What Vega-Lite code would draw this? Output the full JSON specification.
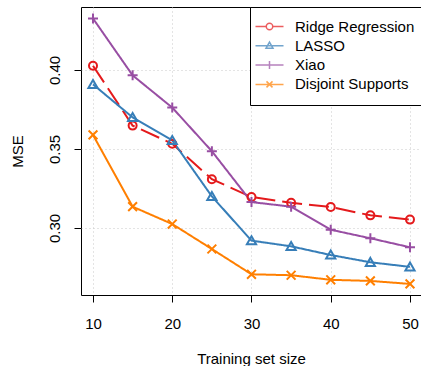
{
  "$schema": "https://vega.github.io/schema/vega-lite/v6.json",
  "width": 340,
  "height": 288,
  "autosize": "none",
  "padding": {"left": 81, "top": 7, "right": 0, "bottom": 71},
  "background": "white",
  "config": {
    "view": {"stroke": "black", "strokeWidth": 1},
    "font": "Liberation Sans",
    "axis": {
      "domain": false,
      "tickColor": "black",
      "tickWidth": 1,
      "tickSize": 7,
      "labelFont": "Liberation Sans",
      "labelFontSize": 15,
      "labelColor": "black",
      "titleFont": "Liberation Sans",
      "titleFontSize": 15,
      "titleFontWeight": "normal",
      "titleColor": "black",
      "grid": true,
      "gridColor": "#c8c8c8",
      "gridDash": [1, 3],
      "gridWidth": 1
    }
  },
  "data": {
    "values": [
      {"n": 10, "method": "Ridge Regression", "mse": 0.4027},
      {"n": 15, "method": "Ridge Regression", "mse": 0.3648},
      {"n": 20, "method": "Ridge Regression", "mse": 0.3533},
      {"n": 25, "method": "Ridge Regression", "mse": 0.3309},
      {"n": 30, "method": "Ridge Regression", "mse": 0.3196},
      {"n": 35, "method": "Ridge Regression", "mse": 0.3160},
      {"n": 40, "method": "Ridge Regression", "mse": 0.3133},
      {"n": 45, "method": "Ridge Regression", "mse": 0.3080},
      {"n": 50, "method": "Ridge Regression", "mse": 0.3053},
      {"n": 10, "method": "LASSO", "mse": 0.3909},
      {"n": 15, "method": "LASSO", "mse": 0.3700},
      {"n": 20, "method": "LASSO", "mse": 0.3555},
      {"n": 25, "method": "LASSO", "mse": 0.3200},
      {"n": 30, "method": "LASSO", "mse": 0.2920},
      {"n": 35, "method": "LASSO", "mse": 0.2884},
      {"n": 40, "method": "LASSO", "mse": 0.2829},
      {"n": 45, "method": "LASSO", "mse": 0.2783},
      {"n": 50, "method": "LASSO", "mse": 0.2754},
      {"n": 10, "method": "Xiao", "mse": 0.4326},
      {"n": 15, "method": "Xiao", "mse": 0.3966},
      {"n": 20, "method": "Xiao", "mse": 0.3762},
      {"n": 25, "method": "Xiao", "mse": 0.3486},
      {"n": 30, "method": "Xiao", "mse": 0.3164},
      {"n": 35, "method": "Xiao", "mse": 0.3135},
      {"n": 40, "method": "Xiao", "mse": 0.2989},
      {"n": 45, "method": "Xiao", "mse": 0.2935},
      {"n": 50, "method": "Xiao", "mse": 0.2878},
      {"n": 10, "method": "Disjoint Supports", "mse": 0.3589},
      {"n": 15, "method": "Disjoint Supports", "mse": 0.3135},
      {"n": 20, "method": "Disjoint Supports", "mse": 0.3025},
      {"n": 25, "method": "Disjoint Supports", "mse": 0.2867},
      {"n": 30, "method": "Disjoint Supports", "mse": 0.2707},
      {"n": 35, "method": "Disjoint Supports", "mse": 0.2701},
      {"n": 40, "method": "Disjoint Supports", "mse": 0.2672},
      {"n": 45, "method": "Disjoint Supports", "mse": 0.2665},
      {"n": 50, "method": "Disjoint Supports", "mse": 0.2646}
    ]
  },
  "encoding": {
    "x": {
      "field": "n",
      "type": "quantitative",
      "scale": {"domain": [8.486, 51.39], "nice": false, "zero": false},
      "axis": {
        "orient": "bottom",
        "values": [10, 20, 30, 40, 50],
        "labelPadding": 14,
        "labelBaseline": "top",
        "title": "Training set size",
        "titlePadding": 20
      }
    },
    "y": {
      "field": "mse",
      "type": "quantitative",
      "scale": {"domain": [0.25759, 0.43987], "nice": false, "zero": false},
      "axis": {
        "orient": "left",
        "values": [0.30, 0.35, 0.40],
        "format": ".2f",
        "labelAngle": -90,
        "labelAlign": "center",
        "labelBaseline": "middle",
        "labelPadding": 20,
        "title": "MSE",
        "titlePadding": 22
      }
    }
  },
  "layer": [
    {
      "mark": {"type": "line", "strokeWidth": 2, "strokeCap": "butt"},
      "encoding": {
        "color": {
          "field": "method",
          "type": "nominal",
          "scale": {
            "domain": ["Ridge Regression", "LASSO", "Xiao", "Disjoint Supports"],
            "range": ["#E41A1C", "#377EB8", "#984EA3", "#FF7F00"]
          },
          "legend": null
        },
        "strokeDash": {
          "field": "method",
          "type": "nominal",
          "scale": {
            "domain": ["Ridge Regression", "LASSO", "Xiao", "Disjoint Supports"],
            "range": [[20, 7], [1, 0], [1, 0], [1, 0]]
          },
          "legend": null
        }
      }
    },
    {
      "mark": {"type": "point", "filled": false, "strokeWidth": 2, "size": 64, "opacity": 1},
      "encoding": {
        "color": {
          "field": "method",
          "type": "nominal",
          "scale": {
            "domain": ["Ridge Regression", "LASSO", "Xiao", "Disjoint Supports"],
            "range": ["#E41A1C", "#377EB8", "#984EA3", "#FF7F00"]
          },
          "legend": null
        },
        "shape": {
          "field": "method",
          "type": "nominal",
          "scale": {
            "domain": ["Ridge Regression", "LASSO", "Xiao", "Disjoint Supports"],
            "range": [
              "M-1,0A1,1 0 1,1 1,0A1,1 0 1,1 -1,0Z",
              "M0,-1.1L1.15,0.9L-1.15,0.9Z",
              "M-1.25,0H1.25M0,-1.25V1.25",
              "M-1.1,-1.1L1.1,1.1M-1.1,1.1L1.1,-1.1"
            ]
          },
          "legend": null
        }
      }
    },
    {
      "transform": [{"filter": "datum.n > 1000"}],
      "mark": {"type": "point", "filled": false, "strokeWidth": 1.5, "size": 100},
      "encoding": {
        "color": {
          "field": "method",
          "type": "nominal",
          "scale": {
            "domain": ["Ridge Regression", "LASSO", "Xiao", "Disjoint Supports"],
            "range": ["#E41A1C", "#377EB8", "#984EA3", "#FF7F00"]
          },
          "legend": {
            "orient": "none",
            "legendX": 169,
            "legendY": 0,
            "direction": "vertical",
            "title": null,
            "strokeColor": "black",
            "fillColor": "white",
            "padding": 12,
            "labelFont": "Liberation Sans",
            "labelFontSize": 15,
            "labelColor": "black",
            "labelOffset": 18,
            "rowPadding": 3.3,
            "symbolSize": 100,
            "symbolStrokeWidth": 1.5
          }
        },
        "shape": {
          "field": "method",
          "type": "nominal",
          "scale": {
            "domain": ["Ridge Regression", "LASSO", "Xiao", "Disjoint Supports"],
            "range": [
              "M-2.8,0H-0.65M0.65,0H2.8M-0.65,0A0.65,0.65 0 1,1 0.65,0A0.65,0.65 0 1,1 -0.65,0Z",
              "M-2.8,0H2.8M0,-0.75L0.7,0.5L-0.7,0.5Z",
              "M-2.8,0H2.8M0,-0.8V0.8",
              "M-2.8,0H2.8M-0.6,-0.6L0.6,0.6M-0.6,0.6L0.6,-0.6"
            ]
          },
          "legend": {
            "orient": "none",
            "legendX": 169,
            "legendY": 0,
            "direction": "vertical",
            "title": null,
            "strokeColor": "black",
            "fillColor": "white",
            "padding": 12,
            "labelFont": "Liberation Sans",
            "labelFontSize": 15,
            "labelColor": "black",
            "labelOffset": 18,
            "rowPadding": 3.3,
            "symbolSize": 100,
            "symbolStrokeWidth": 1.5
          }
        }
      }
    }
  ],
  "resolve": {"scale": {"color": "independent", "shape": "independent", "strokeDash": "independent"}}
}
